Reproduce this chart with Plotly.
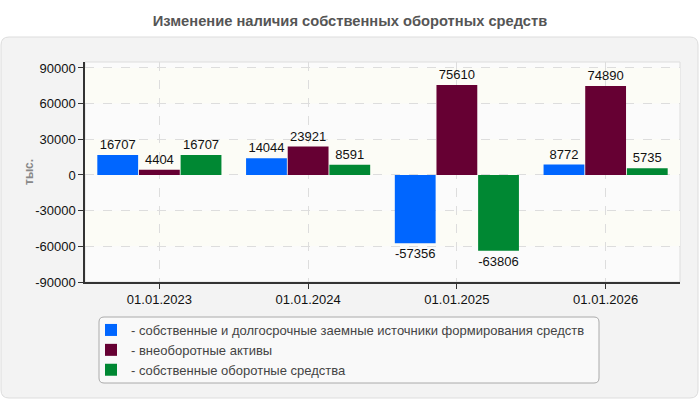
import plotly.graph_objects as go

# данные
categories = ["01.01.2023", "01.01.2024", "01.01.2025", "01.01.2026"]
own_long = [16707, 14044, -57356, 8772]
noncurrent = [4404, 23921, 75610, 74890]
working = [16707, 8591, -63806, 5735]
yticks = [-90000, -60000, -30000, 0, 30000, 60000, 90000]

names = ["- собственные и долгосрочные заемные источники формирования средств",
         "- внеоборотные активы",
         "- собственные оборотные средства"]
colors = ["#0066ff", "#660033", "#008833"]

W, H = 700, 400
L, R, T, B = 85, 20, 62, 118
pw, ph = W - L - R, H - T - B

def px_x(p):
    return (p - L) / pw

def px_y(p):
    return (H - B - p) / ph

def rounded(x0, y0, x1, y1, r):
    # скругленный прямоугольник в пикселях -> координаты paper
    rx, ry = r / pw, r / ph
    a, b, c, d = px_x(x0), px_y(y1), px_x(x1), px_y(y0)
    return (f"M{a+rx},{b} L{c-rx},{b} Q{c},{b} {c},{b+ry} L{c},{d-ry} Q{c},{d} {c-rx},{d} "
            f"L{a+rx},{d} Q{a},{d} {a},{d-ry} L{a},{b+ry} Q{a},{b} {a+rx},{b} Z")

fig = go.Figure()
for vals, nm, col in zip([own_long, noncurrent, working], names, colors):
    fig.add_trace(go.Bar(x=categories, y=vals, name=nm, marker_color=col,
                         marker_line_width=0,
                         text=[str(v) for v in vals], textposition="outside",
                         textfont=dict(size=13, color="#111"),
                         cliponaxis=False))

shapes = [
    # общая серая подложка
    dict(type="path", xref="paper", yref="paper", layer="below",
         path=rounded(1, 37, 698, 398, 8), fillcolor="#f3f3f3",
         line=dict(color="#dddddd", width=1)),
    # область построения
    dict(type="rect", xref="paper", yref="paper", layer="below",
         x0=0, x1=1, y0=0, y1=1, fillcolor="#fbfbfb",
         line=dict(color="#dddddd", width=1)),
    # рамка легенды
    dict(type="path", xref="paper", yref="paper", layer="below",
         path=rounded(99, 317, 599, 383, 5), fillcolor="#f9f9f9",
         line=dict(color="#aaaaaa", width=1)),
]
# чередующиеся полосы между линиями сетки
for i in range(len(yticks) - 1):
    if i % 2 == 1:
        shapes.append(dict(type="rect", xref="paper", yref="y", layer="below",
                           x0=0, x1=1, y0=yticks[i], y1=yticks[i + 1],
                           fillcolor="#fcfcf6", line_width=0))

fig.update_layout(
    width=W, height=H,
    margin=dict(l=L, r=R, t=T, b=B, autoexpand=False),
    paper_bgcolor="white", plot_bgcolor="rgba(0,0,0,0)",
    font=dict(family="Liberation Sans", size=13, color="#222"),
    title=dict(text="<b>Изменение наличия собственных оборотных средств</b>",
               x=0.5, xanchor="center", y=1 - 21 / H, yanchor="middle",
               yref="container", font=dict(size=14.7, color="#555")),
    barmode="group", bargap=0.16, bargroupgap=0.02,
    shapes=shapes,
    showlegend=True,
    legend=dict(x=px_x(91), y=px_y(350), xanchor="left", yanchor="middle",
                bgcolor="rgba(0,0,0,0)", borderwidth=0,
                font=dict(size=13, color="#444"), tracegroupgap=0),
    annotations=[dict(text="<b>тыс.</b>", xref="paper", yref="paper",
                      x=px_x(20), y=0.5, textangle=-90, showarrow=False,
                      font=dict(size=12, color="#888"))],
)
fig.update_yaxes(range=[-90000, 95000], tickvals=yticks, ticktext=[str(v) for v in yticks],
                 ticks="outside", ticklen=5, tickcolor="#333",
                 showline=True, linecolor="#333", linewidth=1.5,
                 showgrid=True, gridcolor="#dddddd", griddash="dash", zeroline=False,
                 tickfont=dict(size=13, color="#111"))
fig.update_xaxes(ticks="outside", ticklen=5, tickcolor="#333",
                 showline=True, linecolor="#333", linewidth=1.5,
                 showgrid=True, gridcolor="#dddddd", griddash="dash",
                 tickfont=dict(size=13, color="#111"))

# убрать отступ body, чтобы график стоял в углу окна
fig.write_html("out.html", config={"displayModeBar": False},
               post_script="document.body.style.margin='0';")
